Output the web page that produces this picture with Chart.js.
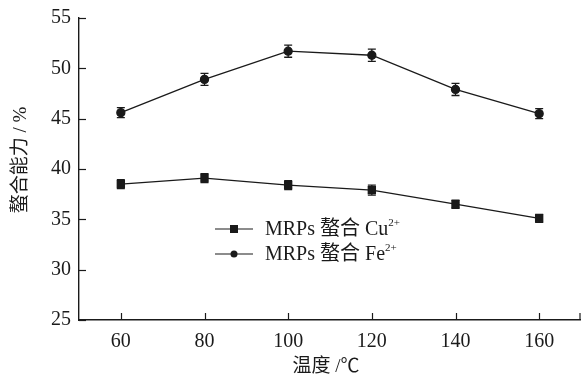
<!DOCTYPE html>
<html>
<head>
<meta charset="utf-8">
<script src="https://cdn.jsdelivr.net/npm/chart.js@4"></script>
<style>
  html, body { margin: 0; padding: 0; background: #fff; overflow: hidden; }
  #wrap { width: 581px; height: 376px; position: relative; }
</style>
</head>
<body>
<div id="wrap"><canvas id="chart"></canvas></div>
<script>
// temperature (°C) and chelating capacity (%)
const temps = [60, 80, 100, 120, 140, 160];
const cuValues = [38.5, 39.1, 38.4, 37.9, 36.5, 35.1];
const cuErrors = [0.45, 0.45, 0.45, 0.5, 0.4, 0.4];
const feValues = [45.6, 48.9, 51.7, 51.3, 47.9, 45.5];
const feErrors = [0.5, 0.6, 0.6, 0.6, 0.6, 0.5];
const xTickValues = [60, 80, 100, 120, 140, 160];
const xTickMarks = [60, 80, 100, 120, 140, 160, 170];
const legendLabels = [
    { base: 'MRPs 螯合 Cu', sup: '2+' },
    { base: 'MRPs 螯合 Fe', sup: '2+' }
];

const serif = "'Liberation Serif', 'DejaVu Serif', serif";
const cjk = "'Liberation Serif', 'Noto Sans CJK SC', serif";
const ink = '#1a1a1a';

// error bars + inward ticks + legend + axis titles
const extras = {
    id: 'extras',
    afterDatasetsDraw(chart) {
        const ctx = chart.ctx;
        const xs = chart.scales.x, ys = chart.scales.y;
        const area = chart.chartArea;
        ctx.save();
        ctx.strokeStyle = ink;
        ctx.lineWidth = 1.3;
        // error bars
        [[cuValues, cuErrors], [feValues, feErrors]].forEach(([vals, errs]) => {
            vals.forEach((v, i) => {
                const px = xs.getPixelForValue(temps[i]);
                const top = ys.getPixelForValue(v + errs[i]);
                const bot = ys.getPixelForValue(v - errs[i]);
                ctx.beginPath();
                ctx.moveTo(px, top); ctx.lineTo(px, bot);
                ctx.moveTo(px - 4, top); ctx.lineTo(px + 4, top);
                ctx.moveTo(px - 4, bot); ctx.lineTo(px + 4, bot);
                ctx.stroke();
            });
        });
        // inward ticks
        ctx.lineWidth = 1.2;
        ys.ticks.forEach(t => {
            const py = Math.round(ys.getPixelForValue(t.value)) + 0.5;
            ctx.beginPath(); ctx.moveTo(area.left, py); ctx.lineTo(area.left + 7, py); ctx.stroke();
        });
        xTickMarks.forEach(v => {
            const px = Math.min(Math.round(xs.getPixelForValue(v)) + 0.5, area.right - 1);
            ctx.beginPath(); ctx.moveTo(px, area.bottom); ctx.lineTo(px, area.bottom - 7); ctx.stroke();
        });
        // legend
        const rows = [229, 254];
        ctx.fillStyle = ink;
        rows.forEach((ry, i) => {
            ctx.lineWidth = 1.2;
            ctx.beginPath(); ctx.moveTo(215, ry); ctx.lineTo(253, ry); ctx.stroke();
            if (i === 0) {
                ctx.fillRect(230, ry - 4, 8, 8);
            } else {
                ctx.beginPath(); ctx.arc(234, ry, 3.5, 0, Math.PI * 2); ctx.fill();
            }
            ctx.textBaseline = 'middle';
            ctx.textAlign = 'left';
            ctx.font = '20px ' + cjk;
            ctx.fillText(legendLabels[i].base, 265, ry + 1);
            const w = ctx.measureText(legendLabels[i].base).width;
            ctx.font = '11px ' + serif;
            ctx.fillText(legendLabels[i].sup, 265 + w, ry - 6);
        });
        // axis titles
        ctx.font = '19px ' + cjk;
        ctx.textAlign = 'center';
        ctx.textBaseline = 'middle';
        ctx.fillText('温度 /℃', 326, 367);
        ctx.translate(21, 160);
        ctx.rotate(-Math.PI / 2);
        ctx.fillText('螯合能力 / %', 0, 0);
        ctx.restore();
    }
};

new Chart(document.getElementById('chart'), {
    type: 'scatter',
    data: {
        datasets: [
            {
                label: legendLabels[0].base + legendLabels[0].sup,
                data: temps.map((t, i) => ({ x: t, y: cuValues[i] })),
                showLine: true,
                borderColor: ink,
                backgroundColor: ink,
                borderWidth: 1.3,
                pointStyle: 'rect',
                pointRadius: 5,
                pointHoverRadius: 5
            },
            {
                label: legendLabels[1].base + legendLabels[1].sup,
                data: temps.map((t, i) => ({ x: t, y: feValues[i] })),
                showLine: true,
                borderColor: ink,
                backgroundColor: ink,
                borderWidth: 1.3,
                pointStyle: 'circle',
                pointRadius: 4,
                pointHoverRadius: 4
            }
        ]
    },
    options: {
        responsive: true,
        maintainAspectRatio: false,
        animation: false,
        layout: { autoPadding: false, padding: { top: 18, right: 0, left: 0, bottom: 0 } },
        plugins: {
            legend: { display: false },
            tooltip: { enabled: false }
        },
        scales: {
            x: {
                type: 'linear',
                min: 50,
                max: 170,
                afterBuildTicks: s => { s.ticks = xTickValues.map(v => ({ value: v })); },
                afterFit: s => { s.height = 56; s.paddingLeft = 0; s.paddingRight = 0; },
                grid: { display: false, drawTicks: false },
                border: { color: ink, width: 1.4 },
                ticks: { color: ink, padding: 10, font: { family: serif, size: 20 }, maxRotation: 0 }
            },
            y: {
                min: 25,
                max: 55,
                afterFit: s => { s.width = 79; s.paddingTop = 0; s.paddingBottom = 0; },
                grid: { display: false, drawTicks: false },
                border: { color: ink, width: 1.4 },
                ticks: { stepSize: 5, color: ink, padding: 8, font: { family: serif, size: 20 } }
            }
        }
    },
    plugins: [extras]
});
</script>
</body>
</html>
